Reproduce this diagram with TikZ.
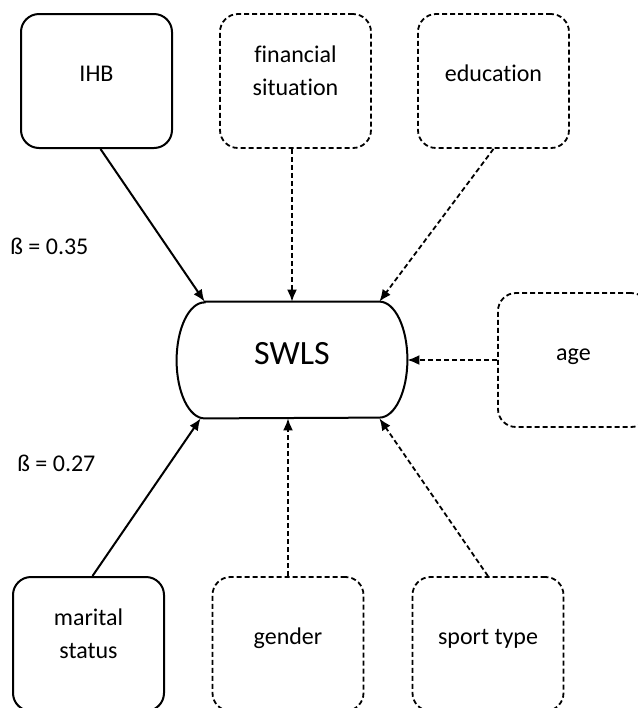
\documentclass[tikz,border=0pt]{standalone}
\usepackage{fontspec}
\setmainfont[Ligatures=NoCommon]{Carlito}
\usetikzlibrary{arrows.meta}

\begin{document}
\begin{tikzpicture}[
        x=0.5pt, y=-0.5pt,
        every node/.style={font=\fontsize{12}{16.5}\selectfont},
        factor/.style={rectangle, rounded corners=9pt, minimum width=75.5pt, minimum height=67pt, align=center, text height=8pt, text depth=7.2pt},
        twoline/.style={text height=21.5pt},
        known/.style={factor, draw=black, line width=1pt},
        other/.style={factor, draw=black, line width=0.9pt, dash pattern=on 2.5pt off 1.5pt},
        effect/.style={draw, line width=1pt, -{Latex[length=6pt,width=5pt]}},
        noeffect/.style={effect, line width=0.9pt, dash pattern=on 2.5pt off 1.5pt},
        beta/.style={anchor=west, inner sep=0pt}
        ]
        \clip (0,0) rectangle (638,708);

        % predictors, top row
        \node[known] (ihb) at (96.5,81) {IHB};
        \node[other, twoline] (fin) at (295.5,81) {financial\\situation};
        \node[other] (edu) at (493.5,81) {education};
        \node[other] (age) at (573.5,360) {age};

        % predictors, bottom row
        \node[known, twoline] (marital) at (88.5,644) {marital\\status};
        \node[other] (gender) at (288,644) {gender};
        \node[other] (sport) at (488,644) {sport type};

        % outcome
        \node[minimum width=115pt, minimum height=58pt, text height=12pt, text depth=8pt, font=\fontsize{17}{20}\selectfont] (swls) at (292,360) {SWLS};
        \draw[line width=1pt] ([xshift=14pt]swls.north west) -- ([xshift=-14pt]swls.north east)
            arc[start angle=90, end angle=-90, x radius=14pt, y radius=29pt]
            -- ([xshift=14pt]swls.south west)
            arc[start angle=270, end angle=90, x radius=14pt, y radius=29pt] -- cycle;

        \draw[effect] ([xshift=2pt]ihb.south) -- ([xshift=14pt]swls.north west);
        \draw[noeffect] (fin.south -| swls.north) -- (swls.north);
        \draw[noeffect] (edu.south) -- ([xshift=-14pt]swls.north east);
        \draw[noeffect] (age.west) -- (swls.east);
        \draw[effect] ([xshift=2pt]marital.north) -- ([xshift=12pt]swls.south west);
        \draw[noeffect] (gender.north) -- (gender.north |- swls.south);
        \draw[noeffect] (sport.north) -- ([xshift=-14pt]swls.south east);

        \node[beta] (b1) at (10,246) {ß = 0.35};
        \node[beta] (b2) at (17,463) {ß = 0.27};
\end{tikzpicture}
\end{document}
